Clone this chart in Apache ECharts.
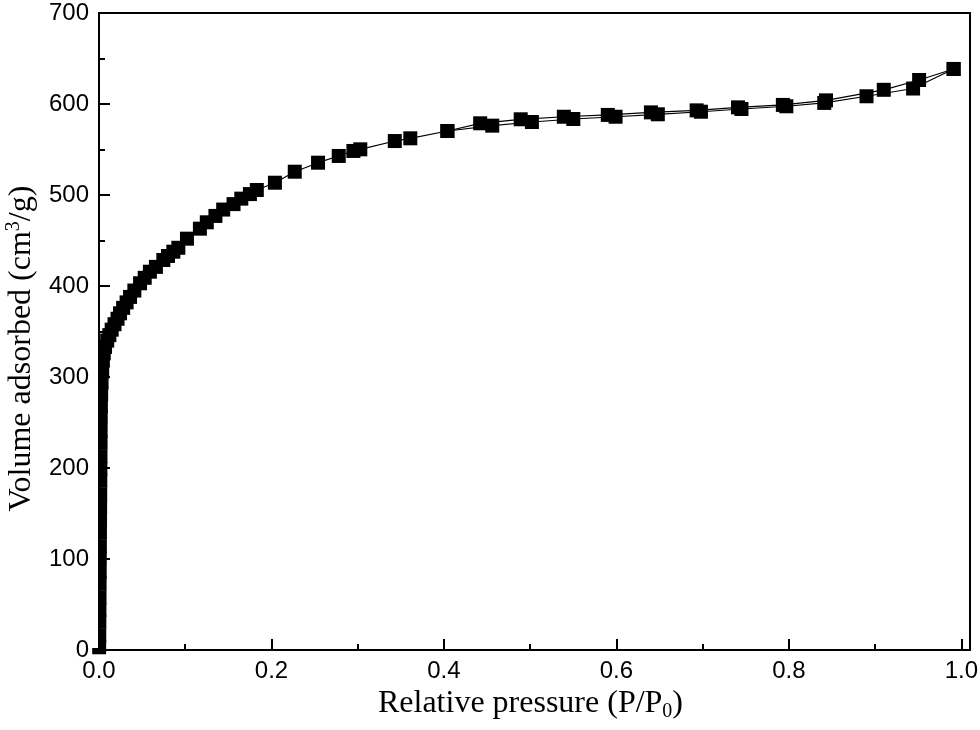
<!DOCTYPE html>
<html style="height: 100%">
<head>
    <meta charset="utf-8">
</head>
<body style="height: 100%; margin: 0; background: #fff">
    <div id="container" style="width: 980px; height: 730px"></div>
    <script src="https://cdn.jsdelivr.net/npm/echarts@6/dist/echarts.min.js"></script>
    <script type="text/javascript">
        // adsorption branch
        var adsP = [0.0002, 0.0003, 0.0004, 0.0005, 0.0006, 0.0007, 0.0008, 0.0009, 0.0010, 0.0011,
            0.0012, 0.0013, 0.0014, 0.0015, 0.0016, 0.0017, 0.0018, 0.0019, 0.0020, 0.0022,
            0.0025, 0.0030, 0.0037, 0.0045, 0.0055, 0.007, 0.0095, 0.012, 0.0147, 0.018,
            0.0215, 0.0244, 0.028, 0.032, 0.036, 0.041, 0.0476, 0.053, 0.059, 0.066,
            0.0746, 0.080, 0.0862, 0.092, 0.102, 0.117, 0.125, 0.135, 0.144, 0.156,
            0.165, 0.175, 0.183, 0.204, 0.227, 0.254, 0.278, 0.295, 0.303, 0.343,
            0.361, 0.404, 0.456, 0.502, 0.550, 0.599, 0.648, 0.698, 0.745, 0.797,
            0.841, 0.890, 0.944, 0.991];
        var adsV = [3, 16, 31, 44, 58, 73, 86, 101, 114, 129,
            143, 157, 171, 186, 199, 213, 228, 241, 256, 268,
            281, 294, 306, 318, 326, 333, 340, 346, 352, 358,
            364, 370, 376, 382, 388, 395, 403, 409, 415.7, 421,
            428.6, 433, 437.7, 442, 452, 463, 470, 477, 484, 490,
            496, 501, 505.5, 513.5, 525.6, 535.5, 542.9, 548.4, 550.2, 559.3,
            562.3, 570.3, 576.2, 580.2, 583.5, 586, 588.7, 591.5, 594.5, 597.5,
            601.2, 608.5, 617, 638.5];

        // desorption branch
        var desP = [0.991, 0.951, 0.910, 0.843, 0.793, 0.741, 0.693, 0.640, 0.590, 0.539, 0.489, 0.442, 0.404];
        var desV = [638.5, 626.4, 615.6, 604, 599, 596.3, 593, 590.8, 588, 586, 583.2, 578.8, 570.3];

        var xTicks = [0, 0.2, 0.4, 0.6, 0.8, 1.0];
        var yTicks = [0, 100, 200, 300, 400, 500, 600, 700];

        function pairs(xs, ys) {
            return xs.map(function (x, i) { return [x, ys[i]]; });
        }

        var myChart = echarts.init(document.getElementById('container'));

        var axisCommon = {
            axisLine: { show: true, onZero: false, lineStyle: { color: '#000', width: 2 } },
            axisTick: { show: true, inside: true, length: 11, lineStyle: { color: '#000', width: 2 } },
            minorTick: { show: true, splitNumber: 2, length: 6, lineStyle: { color: '#000', width: 2 } },
            splitLine: { show: false },
            axisLabel: { color: '#000', fontFamily: 'Liberation Sans', fontSize: 24 }
        };

        var option = {
            animation: false,
            grid: {
                left: 99, right: 10, top: 13, bottom: 80,
                outerBoundsMode: 'none',
                containLabel: false,
                show: true, borderColor: '#000', borderWidth: 2
            },
            // the symbols at p ~ 0 are cut at the frame in the original plot
            graphic: [{
                type: 'rect',
                left: 91, top: 0,
                shape: { width: 7, height: 648 },
                style: { fill: '#fff' },
                z: 100
            }],
            xAxis: Object.assign({}, axisCommon, {
                type: 'value',
                min: 0,
                max: 1.01,
                interval: 0.2,
                name: 'Relative pressure (P/P{sub|0})',
                nameLocation: 'middle',
                nameGap: 25,
                nameTextStyle: {
                    color: '#000', fontFamily: 'Liberation Serif', fontSize: 32,
                    padding: [0, 8, 0, 0],
                    rich: { sub: { fontFamily: 'Liberation Serif', fontSize: 20, verticalAlign: 'bottom', padding: [16, 0, 0, 0] } }
                },
                axisLabel: Object.assign({}, axisCommon.axisLabel, {
                    margin: 9,
                    formatter: function (v) {
                        return xTicks.some(function (t) { return Math.abs(t - v) < 1e-6; }) ? v.toFixed(1) : '';
                    }
                })
            }),
            yAxis: Object.assign({}, axisCommon, {
                type: 'value',
                min: 0,
                max: 700,
                interval: 100,
                name: 'Volume adsorbed (cm{sup|3}/g)',
                nameLocation: 'middle',
                nameGap: 58,
                nameTextStyle: {
                    color: '#000', fontFamily: 'Liberation Serif', fontSize: 32,
                    padding: [0, 34, 0, 0],
                    rich: { sup: { fontFamily: 'Liberation Serif', fontSize: 20, verticalAlign: 'top', padding: [0, 0, 16, 0] } }
                },
                axisLabel: Object.assign({}, axisCommon.axisLabel, {
                    margin: 10,
                    formatter: function (v) {
                        return yTicks.indexOf(v) >= 0 ? String(v) : '';
                    }
                })
            }),
            series: [
                {
                    name: 'adsorption',
                    type: 'line',
                    data: pairs(adsP, adsV),
                    symbol: 'rect',
                    symbolSize: 14,
                    showAllSymbol: true,
                    lineStyle: { color: '#000', width: 1.2 },
                    itemStyle: { color: '#000' }
                },
                {
                    name: 'desorption',
                    type: 'line',
                    data: pairs(desP, desV),
                    symbol: 'rect',
                    symbolSize: 14,
                    showAllSymbol: true,
                    lineStyle: { color: '#000', width: 1.2 },
                    itemStyle: { color: '#000' }
                }
            ]
        };

        myChart.setOption(option);
    </script>
</body>
</html>
